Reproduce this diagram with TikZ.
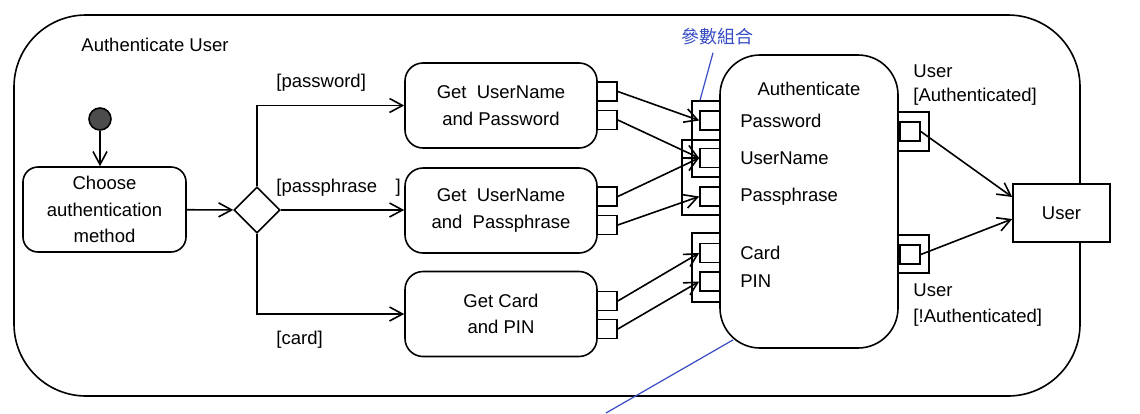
\documentclass[tikz,border=0pt]{standalone}
\usepackage{fontspec}
\setmainfont{Liberation Sans}
\newfontfamily\cjk{Noto Sans CJK TC}
\usepackage{xcolor}
\usepackage{tikz}
\usetikzlibrary{arrows.meta,shapes,positioning,calc}
\definecolor{annot}{RGB}{55,75,195}

\begin{document}
\begin{tikzpicture}[x=0.5pt,y=-0.5pt,line width=0.8pt,
		font=\fontsize{9.25}{13.25}\selectfont,
		act/.style={draw,rounded corners=9pt,align=center,minimum width=96pt,minimum height=42.5pt,inner sep=0pt},
		pin/.style={draw,fill=white,minimum width=10pt,minimum height=9.5pt,inner sep=0pt},
		pset/.style={draw,inner sep=0pt},
		guard/.style={anchor=west},
		>={Straight Barb[length=6.5pt,width=7pt]}]
		\useasboundingbox (0,0) rectangle (1140,413);
		%
		\node[draw,rounded corners=36pt,minimum width=533pt,minimum height=190.5pt] (frame) at (547,205.5) {};
		\node[anchor=west] (title) at (74,45) {Authenticate User};
		%
		\node[circle,draw,fill=black!70,minimum size=11pt,inner sep=0pt] (init) at (100,119) {};
		\node[act,rounded corners=7.5pt,minimum width=81.5pt] (choose) at (104.5,209.5) {Choose\\authentication\\method};
		\node[diamond,draw,minimum width=23pt,minimum height=23pt,inner sep=0pt] (dec) at (257,210) {};
		%
		\node[act] (getPwd) at (501,105.5) {Get~ UserName\\and Password};
		\node[act] (getPhr) at (501,210.5) {Get~ UserName\\and~ Passphrase};
		\node[act] (getCard) at (501,314) {Get Card\\and PIN};
		\node[guard] at (269,83) {[password]};
		\node[guard] at (269,188) {[passphrase\quad]};
		\node[guard] at (269,340) {[card]};
		%
		\node[pin] (pwdPw) at (607,91.5) {};
		\node[pin] (pwdUn) at (607,120) {};
		\node[pin] (phrUn) at (607,196.5) {};
		\node[pin] (phrPp) at (607,225) {};
		\node[pin] (cardCd) at (607,301) {};
		\node[pin] (cardPin) at (607,329) {};
		%
		\node[draw,rounded corners=20pt,minimum width=89pt,minimum height=146.5pt] (auth) at (809,201.5) {};
		\node[anchor=north] (authName) at ([yshift=-10pt]auth.north) {Authenticate};
		\node[pset,minimum width=14pt,minimum height=38pt] (set1) at (706,139) {};
		\node[pset,minimum width=19pt,minimum height=37.5pt] (set2) at (701,177.5) {};
		\node[pset,minimum width=14pt,minimum height=34.5pt] (set3) at (706,267.5) {};
		\node[pin] (inPw) at (710,120.5) {};
		\node[pin] (inUn) at (710,158) {};
		\node[pin] (inPp) at (710,196.5) {};
		\node[pin] (inCd) at (710,253) {};
		\node[pin] (inPin) at (710,281.5) {};
		\node[right=6pt of inPw] {Password};
		\node[right=6pt of inUn] {UserName};
		\node[right=6pt of inPp] {Passphrase};
		\node[right=6pt of inCd] {Card};
		\node[right=6pt of inPin] {PIN};
		%
		\node[pset,minimum width=15.5pt,minimum height=19.5pt] (okSet) at (913.5,131.5) {};
		\node[pset,minimum width=15.5pt,minimum height=19pt] (noSet) at (913.5,254) {};
		\node[pin] (outOk) at (910,131.5) {};
		\node[pin] (outNo) at (910,254.5) {};
		\node[anchor=west,align=left,font=\fontsize{9.25}{12}\selectfont] at (906,85) {User\\{}[Authenticated]};
		\node[anchor=west,align=left] at (906,305) {User\\{}[!Authenticated]};
		\node[draw,fill=white,minimum width=48.5pt,minimum height=29pt] (user) at (1061.5,213) {User};
		%
		\path[->]
		(init) edge (init |- choose.north)
		(choose) edge (dec)
		(dec.east) edge (dec -| getPhr.west)
		(pwdPw.east) edge (inPw.west)
		(pwdUn.east) edge (inUn.west)
		(phrUn.east) edge (inUn.west)
		(phrPp.east) edge (inPp.west)
		(cardCd.east) edge (inCd.west)
		(cardPin.east) edge (inPin.west)
		(outOk.east) edge ([yshift=8pt]user.west)
		(outNo.east) edge ([yshift=-3pt]user.west);
		\draw[->] (dec.north) |- (getPwd.west);
		\draw[->] (dec.south) |- (getCard.west);
		%
		\node[text=annot,font=\cjk\fontsize{9}{10}\selectfont] (note) at (717,37) {參數組合};
		\coordinate (cut) at (606,413);
		\draw[annot,line width=0.6pt] ([xshift=-2pt]note.south) -- ([xshift=-3pt]set1.north);
		\draw[annot,line width=0.6pt] ($(auth.south west)+(14,-9)$) -- (cut);
\end{tikzpicture}
\end{document}
